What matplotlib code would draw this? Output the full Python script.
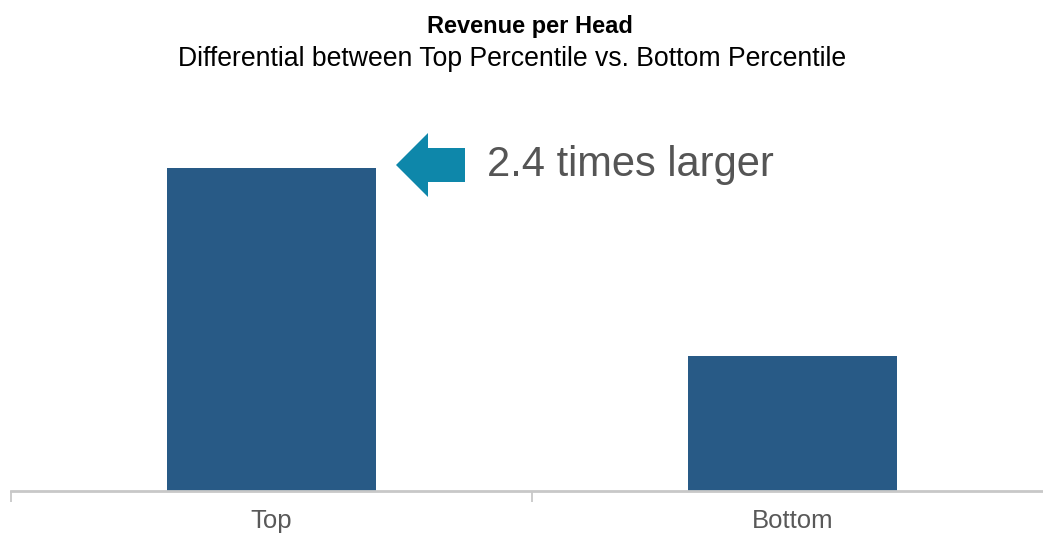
import matplotlib.pyplot as plt
import matplotlib
from matplotlib.patches import Polygon

matplotlib.rcParams['font.family'] = ['Liberation Sans', 'DejaVu Sans']

# data
categories = ['Top', 'Bottom']
values = [2.4, 1.0]
note = '2.4 times larger'

W, H = 1043, 537
fig = plt.figure(figsize=(W / 100, H / 100), dpi=100)

# axes in pixel terms: x from 11 to 1053, baseline at y=491
ax_left, ax_right = 11, 1053
ax_bottom_px = 491
ymax = 3.0
ax_height_px = ymax / values[0] * 323
ax = fig.add_axes([ax_left / W, (H - ax_bottom_px) / H,
                   (ax_right - ax_left) / W, ax_height_px / H])

ax.bar(range(len(categories)), values, width=0.4, color='#285a86')
ax.set_xlim(-0.5, 1.5)
ax.set_ylim(0, ymax)

# small ticks at category boundaries, labels at centres
ax.set_xticks([-0.5, 0.5, 1.5], minor=False)
ax.set_xticklabels([])
ax.tick_params(axis='x', length=8, width=1.3, color='#c8c8c8', direction='out')
ax.set_xticks(range(len(categories)), minor=True)
ax.set_xticklabels(categories, minor=True)
ax.tick_params(axis='x', which='minor', length=0, pad=13, labelsize=18.5, labelcolor='#595959')
ax.set_yticks([])
for s in ['top', 'right', 'left']:
    ax.spines[s].set_visible(False)
ax.spines['bottom'].set_color('#c8c8c8')
ax.spines['bottom'].set_linewidth(2)

# arrow pointing at the top bar
def px(x, y):
    return (x / W, (H - y) / H)

arrow = [px(396, 165), px(428, 133), px(428, 148), px(465, 148),
         px(465, 182), px(428, 182), px(428, 197)]
fig.patches.append(Polygon(arrow, closed=True, transform=fig.transFigure,
                           facecolor='#0e87aa', edgecolor='none'))
fig.text(487 / W, (H - 165) / H, note, fontsize=30, color='#555555',
         ha='left', va='center')

fig.text(0.508, (H - 27) / H, 'Revenue per Head', fontsize=17, fontweight='bold',
         ha='center', va='center', color='black')
fig.text(0.491, (H - 59) / H, 'Differential between Top Percentile vs. Bottom Percentile',
         fontsize=19.2, ha='center', va='center', color='black')

plt.savefig('out.png', dpi=100, facecolor='white')
plt.close()
